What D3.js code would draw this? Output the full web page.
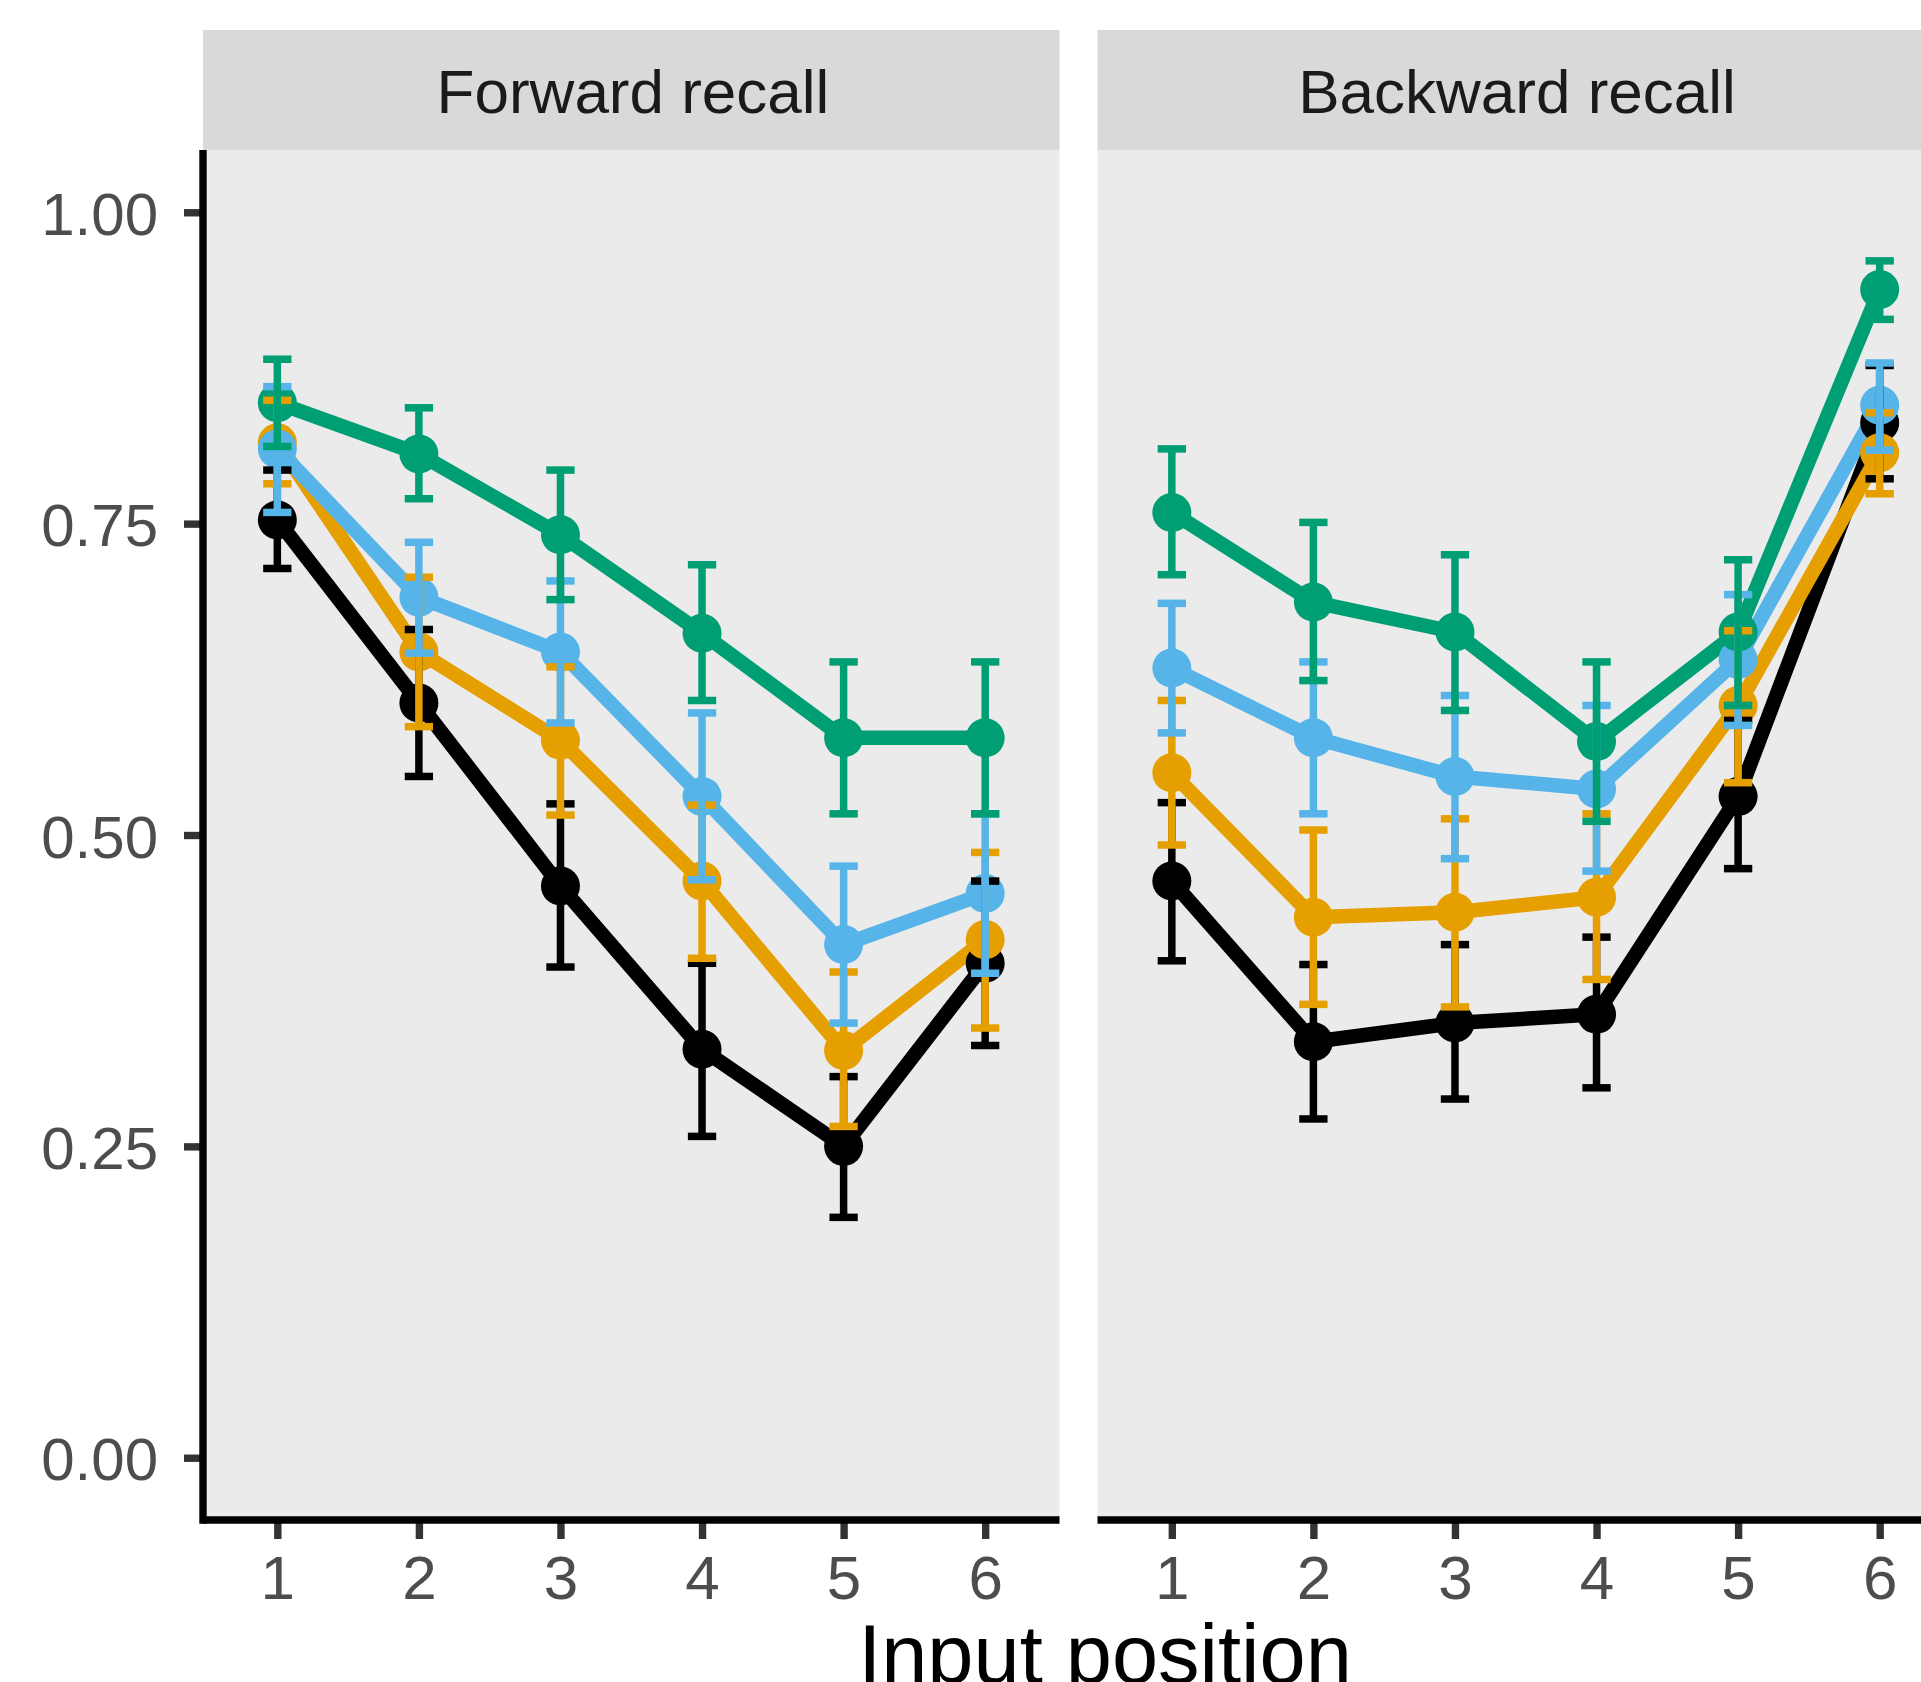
<!DOCTYPE html>
<html>
<head>
<meta charset="utf-8">
<script src="https://cdn.jsdelivr.net/npm/d3@7"></script>
<style>
  html, body { margin: 0; padding: 0; background: #ffffff; overflow: hidden; }
  svg { display: block; }
  text { font-family: "Liberation Sans", Arial, Helvetica, sans-serif; }
</style>
</head>
<body>
<script>
// ---------------- data ----------------
const positions = [1, 2, 3, 4, 5, 6];
const panelTitles = ["Forward recall", "Backward recall"];
const groupNames = ["group 1", "group 2", "group 3", "group 4"];
const yTickValues = [0, 0.25, 0.5, 0.75, 1];
const yTickLabels = ["0.00", "0.25", "0.50", "0.75", "1.00"];
const xTitle = "Input position";

// one row per group (black, orange, sky blue, green)
const forwardMean = [
  [0.753, 0.606, 0.459, 0.328, 0.250, 0.397],
  [0.815, 0.647, 0.576, 0.463, 0.327, 0.416],
  [0.810, 0.691, 0.647, 0.531, 0.412, 0.453],
  [0.847, 0.806, 0.741, 0.662, 0.578, 0.578]
];
const forwardLower = [
  [0.714, 0.547, 0.394, 0.258, 0.193, 0.331],
  [0.782, 0.587, 0.516, 0.401, 0.266, 0.345],
  [0.759, 0.646, 0.590, 0.464, 0.349, 0.389],
  [0.812, 0.770, 0.689, 0.608, 0.517, 0.517]
];
const forwardUpper = [
  [0.793, 0.665, 0.525, 0.397, 0.306, 0.463],
  [0.849, 0.707, 0.635, 0.524, 0.390, 0.486],
  [0.860, 0.735, 0.704, 0.598, 0.475, 0.517],
  [0.882, 0.843, 0.793, 0.717, 0.639, 0.639]
];
const backwardMean = [
  [0.463, 0.334, 0.349, 0.356, 0.531, 0.831],
  [0.550, 0.434, 0.438, 0.450, 0.604, 0.807],
  [0.634, 0.578, 0.547, 0.537, 0.641, 0.845],
  [0.759, 0.687, 0.663, 0.575, 0.663, 0.938]
];
const backwardLower = [
  [0.399, 0.272, 0.288, 0.297, 0.473, 0.786],
  [0.492, 0.364, 0.362, 0.384, 0.542, 0.774],
  [0.582, 0.517, 0.481, 0.471, 0.588, 0.809],
  [0.709, 0.624, 0.600, 0.511, 0.604, 0.914]
];
const backwardUpper = [
  [0.526, 0.396, 0.412, 0.418, 0.592, 0.877],
  [0.608, 0.504, 0.513, 0.517, 0.664, 0.839],
  [0.686, 0.639, 0.612, 0.604, 0.693, 0.879],
  [0.810, 0.751, 0.725, 0.639, 0.721, 0.961]
];

// ---------------- styles / layout ----------------
const groupColors = ["#000000", "#E69F00", "#56B4E9", "#009E73"];
const W = 1921, H = 1682;
const stripTop = 30, panelTop = 150, panelBottom = 1520;
const panelLefts = [203, 1097.5];
const panelW = 856.5;
const stripLabelX = [633, 1517];
const fontStack = '"Liberation Sans", Arial, Helvetica, sans-serif';

const panelsData = [
  { mean: forwardMean, lo: forwardLower, hi: forwardUpper },
  { mean: backwardMean, lo: backwardLower, hi: backwardUpper }
];

const svg = d3.select("body").append("svg")
  .attr("width", W).attr("height", H)
  .attr("viewBox", `0 0 ${W} ${H}`);

svg.append("rect").attr("width", W).attr("height", H).attr("fill", "#ffffff");

const x = d3.scaleLinear().domain([0.475, 6.525]).range([0, panelW]);
const y = d3.scaleLinear().domain([-0.05, 1.05]).range([panelBottom, panelTop]);
const capHalf = x(1.1) - x(1);

const line = d3.line().x(d => x(d.pos)).y(d => y(d.val));

panelTitles.forEach((title, p) => {
  const pd = panelsData[p];
  const g = svg.append("g").attr("transform", `translate(${panelLefts[p]},0)`);

  // panel background
  g.append("rect")
    .attr("x", 0).attr("y", panelTop)
    .attr("width", panelW).attr("height", panelBottom - panelTop)
    .attr("fill", "#EBEBEB");

  // strip
  g.append("rect")
    .attr("x", 0).attr("y", stripTop)
    .attr("width", panelW).attr("height", panelTop - stripTop)
    .attr("fill", "#D9D9D9");
  svg.append("text")
    .attr("x", stripLabelX[p]).attr("y", 113)
    .attr("text-anchor", "middle")
    .attr("font-size", 62)
    .attr("fill", "#1A1A1A")
    .text(title);

  const series = groupNames.map((name, i) => ({
    name, color: groupColors[i],
    pts: positions.map((pos, j) => ({ pos, val: pd.mean[i][j], lo: pd.lo[i][j], hi: pd.hi[i][j] }))
  }));

  // lines
  g.append("g").selectAll("path").data(series).join("path")
    .attr("d", s => line(s.pts))
    .attr("fill", "none")
    .attr("stroke", s => s.color)
    .attr("stroke-width", 14.5)
    .attr("stroke-linejoin", "round");

  // points
  series.forEach(s => {
    g.append("g").selectAll("circle").data(s.pts).join("circle")
      .attr("cx", d => x(d.pos)).attr("cy", d => y(d.val))
      .attr("r", 19.5)
      .attr("fill", s.color);
  });

  // error bars
  series.forEach(s => {
    const eb = g.append("g").attr("stroke", s.color).attr("stroke-width", 7.5).attr("stroke-linecap", "butt");
    const sel = eb.selectAll("g").data(s.pts).join("g");
    sel.append("line")
      .attr("x1", d => x(d.pos)).attr("x2", d => x(d.pos))
      .attr("y1", d => y(d.hi)).attr("y2", d => y(d.lo));
    sel.append("line")
      .attr("x1", d => x(d.pos) - capHalf).attr("x2", d => x(d.pos) + capHalf)
      .attr("y1", d => y(d.hi)).attr("y2", d => y(d.hi));
    sel.append("line")
      .attr("x1", d => x(d.pos) - capHalf).attr("x2", d => x(d.pos) + capHalf)
      .attr("y1", d => y(d.lo)).attr("y2", d => y(d.lo));
  });

  // x axis
  const xa = g.append("g").attr("transform", `translate(0,${panelBottom})`)
    .call(d3.axisBottom(x).tickValues(positions).tickSize(19).tickSizeOuter(0).tickFormat(d3.format("d")));
  xa.select(".domain").remove();
  xa.selectAll(".tick line").attr("stroke", "#333333").attr("stroke-width", 7.4);
  xa.selectAll(".tick text")
    .attr("y", 79).attr("dy", null)
    .attr("font-size", 62)
    .attr("font-family", fontStack)
    .attr("fill", "#4D4D4D");
  g.append("line")
    .attr("x1", 0).attr("x2", panelW)
    .attr("y1", panelBottom).attr("y2", panelBottom)
    .attr("stroke", "#000000").attr("stroke-width", 7.4);

  // y axis (left panel only)
  if (p === 0) {
    const ya = g.append("g")
      .call(d3.axisLeft(y).tickValues(yTickValues).tickSize(19).tickSizeOuter(0)
        .tickFormat((d, i) => yTickLabels[i]));
    ya.select(".domain").remove();
    ya.selectAll(".tick line").attr("stroke", "#333333").attr("stroke-width", 7.4);
    ya.selectAll(".tick text")
      .attr("x", -45).attr("dy", "0.37em")
      .attr("font-size", 60)
      .attr("font-family", fontStack)
      .attr("fill", "#4D4D4D");
    g.append("line")
      .attr("x1", 0).attr("x2", 0)
      .attr("y1", panelTop).attr("y2", panelBottom + 3.7)
      .attr("stroke", "#000000").attr("stroke-width", 7.4);
  }
});

// x axis title (cut off by the bottom edge, as in the reference)
svg.append("text")
  .attr("x", 1105).attr("y", 1683)
  .attr("text-anchor", "middle")
  .attr("font-size", 83)
  .attr("fill", "#000000")
  .text(xTitle);
</script>
</body>
</html>
